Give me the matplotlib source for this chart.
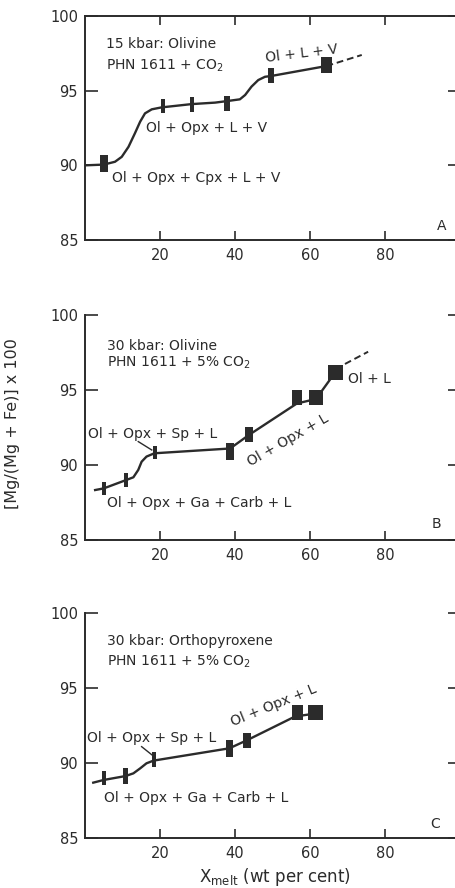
import numpy as np
import matplotlib.pyplot as plt

# Panel A: 15 kbar, olivine, PHN 1611 + CO2
a_line_x = [0, 5, 8.0, 9.8, 11.6, 13.3, 14.7, 16.0, 17.8, 20.4, 28.4, 34.7, 37.8,
            41.3, 42.7, 44.4, 46.2, 48.0, 49.6, 64.4]
a_line_y = [90.0, 90.05, 90.24, 90.57, 91.24, 92.14, 92.92, 93.48, 93.75, 93.88, 94.1,
            94.2, 94.3, 94.42, 94.71, 95.27, 95.71, 95.93, 95.98, 96.65]
a_dash_x = [64.4, 73.8]
a_dash_y = [96.65, 97.39]
a_pts_x = np.array([5.0, 20.7, 28.6, 37.8, 49.6, 64.4])
a_pts_y = np.array([90.1, 94.0, 94.05, 94.15, 96.0, 96.72])
a_xerr = np.array([1.07, 0.53, 0.53, 0.8, 0.93, 1.47])
a_yerr = np.array([0.57, 0.47, 0.5, 0.5, 0.5, 0.52])

# Panel B: 30 kbar, olivine, PHN 1611 + 5% CO2
b_line_x = [2.7, 5.0, 11.0, 12.9, 14.2, 15.1, 16.4, 18.5, 38.7, 43.7, 56.5, 61.6, 66.8]
b_line_y = [88.33, 88.44, 89.0, 89.18, 89.67, 90.22, 90.56, 90.78, 91.1, 92.0, 94.1,
            94.4, 96.2]
b_dash_x = [66.8, 75.5]
b_dash_y = [96.4, 97.55]
b_pts_x = np.array([5.1, 10.9, 18.7, 38.7, 43.7, 56.5, 61.6, 66.8])
b_pts_y = np.array([88.43, 89.0, 90.85, 90.9, 92.03, 94.5, 94.5, 96.17])
b_xerr = np.array([0.53, 0.53, 0.53, 1.07, 1.07, 1.33, 1.87, 1.87])
b_yerr = np.array([0.44, 0.47, 0.44, 0.57, 0.5, 0.53, 0.53, 0.5])

# Panel C: 30 kbar, orthopyroxene, PHN 1611 + 5% CO2
c_line_x = [2.2, 5.0, 10.8, 12.9, 14.7, 16.4, 18.3, 38.5, 43.3, 56.0, 61.5]
c_line_y = [88.69, 88.87, 89.13, 89.31, 89.64, 89.98, 90.16, 90.98, 91.53, 93.1, 93.3]
c_pts_x = np.array([5.1, 10.8, 18.4, 38.5, 43.3, 56.7, 61.5])
c_pts_y = np.array([89.0, 89.15, 90.25, 90.95, 91.5, 93.37, 93.37])
c_xerr = np.array([0.53, 0.67, 0.53, 0.93, 1.07, 1.47, 2.0])
c_yerr = np.array([0.44, 0.53, 0.5, 0.57, 0.5, 0.5, 0.5])

x_ticks = [20, 40, 60, 80]
y_ticks = [85, 90, 95, 100]

ink = '#2b2b2b'
plt.rcParams['font.family'] = ['DejaVu Sans']
plt.rcParams['mathtext.default'] = 'regular'
fs = 10

fig = plt.figure(figsize=(4.56, 8.88), dpi=100)
ax_a = fig.add_axes([0.1864, 0.7297, 0.8224, 0.2523])
ax_b = fig.add_axes([0.1864, 0.3919, 0.8224, 0.2534])
ax_c = fig.add_axes([0.1864, 0.0563, 0.8224, 0.2534])


def setup(ax, top):
    ax.set_xlim(0, 100)
    ax.set_ylim(85, 100)
    ax.set_xticks(x_ticks)
    ax.set_yticks(y_ticks)
    for s in ax.spines.values():
        s.set_color(ink)
        s.set_linewidth(1.4)
    ax.spines['top'].set_visible(top)
    ax.tick_params(axis='y', direction='in', length=9, width=1.2, color=ink,
                   labelcolor=ink, labelsize=fs + 0.5, right=True, pad=5)
    ax.tick_params(axis='x', direction='in', length=6.5, width=1.2, color=ink,
                   labelcolor=ink, labelsize=fs + 0.5, top=top, pad=6)


def draw(ax, lx, ly, px, py, xerr, yerr):
    ax.plot(lx, ly, color=ink, lw=1.7, zorder=2)
    ax.bar(px, 2 * yerr, width=2 * xerr, bottom=py - yerr, color=ink, zorder=3)


setup(ax_a, True)
draw(ax_a, a_line_x, a_line_y, a_pts_x, a_pts_y, a_xerr, a_yerr)
ax_a.plot(a_dash_x, a_dash_y, color=ink, lw=1.4, ls=(0, (3.5, 2)))
ax_a.text(5.6, 97.84, '15 kbar: Olivine', fontsize=fs, color=ink)
ax_a.text(5.6, 96.38, 'PHN 1611 + CO$_2$', fontsize=fs, color=ink)
ax_a.text(57.8, 97.5, 'Ol + L + V', fontsize=fs, color=ink, rotation=7,
          ha='center', va='center', rotation_mode='anchor')
ax_a.text(16.2, 92.25, 'Ol + Opx + L + V', fontsize=fs, color=ink)
ax_a.text(7.1, 88.9, 'Ol + Opx + Cpx + L + V', fontsize=fs, color=ink)
ax_a.text(93.8, 85.67, 'A', fontsize=fs, color=ink)

setup(ax_b, False)
draw(ax_b, b_line_x, b_line_y, b_pts_x, b_pts_y, b_xerr, b_yerr)
ax_b.plot(b_dash_x, b_dash_y, color=ink, lw=1.4, ls=(0, (3.5, 2)))
ax_b.text(5.8, 97.67, '30 kbar: Olivine', fontsize=fs, color=ink)
ax_b.text(5.8, 96.56, 'PHN 1611 + 5% CO$_2$', fontsize=fs, color=ink)
ax_b.text(0.9, 91.78, 'Ol + Opx + Sp + L', fontsize=fs, color=ink)
ax_b.plot([14.2, 17.8], [91.56, 91.0], color=ink, lw=1.0)
ax_b.text(54.2, 91.67, 'Ol + Opx + L', fontsize=fs, color=ink, rotation=30,
          ha='center', va='center', rotation_mode='anchor')
ax_b.text(70.2, 95.44, 'Ol + L', fontsize=fs, color=ink)
ax_b.text(5.8, 87.22, 'Ol + Opx + Ga + Carb + L', fontsize=fs, color=ink)
ax_b.text(92.4, 85.78, 'B', fontsize=fs, color=ink)

setup(ax_c, False)
draw(ax_c, c_line_x, c_line_y, c_pts_x, c_pts_y, c_xerr, c_yerr)
ax_c.text(5.8, 97.87, '30 kbar: Orthopyroxene', fontsize=fs, color=ink)
ax_c.text(5.8, 96.47, 'PHN 1611 + 5% CO$_2$', fontsize=fs, color=ink)
ax_c.text(0.6, 91.42, 'Ol + Opx + Sp + L', fontsize=fs, color=ink)
ax_c.plot([15.1, 18.2], [91.09, 90.47], color=ink, lw=1.0)
ax_c.text(50.2, 93.87, 'Ol + Opx + L', fontsize=fs, color=ink, rotation=22,
          ha='center', va='center', rotation_mode='anchor')
ax_c.text(5.1, 87.42, 'Ol + Opx + Ga + Carb + L', fontsize=fs, color=ink)
ax_c.text(92.0, 85.64, 'C', fontsize=fs, color=ink)

fig.text(13 / 456, 1 - 424 / 888, '[Mg/(Mg + Fe)] x 100', rotation=90,
         ha='center', va='center', fontsize=11.5, color=ink)
fig.text(275 / 456, 1 - 877 / 888, 'X$_{melt}$ (wt per cent)',
         ha='center', va='center', fontsize=12, color=ink)

fig.savefig('out.png', dpi=100, facecolor='white')
